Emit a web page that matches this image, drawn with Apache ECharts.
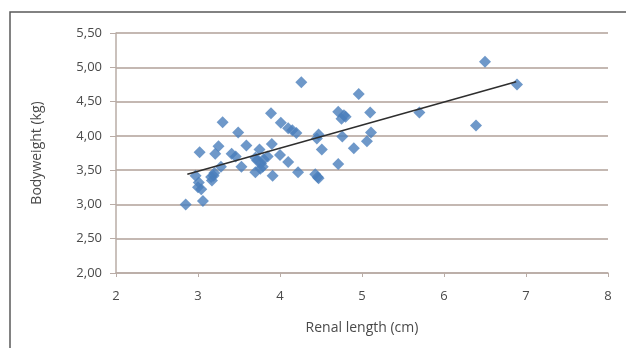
<!DOCTYPE html>
<html>
<head>
<meta charset="utf-8">
<script src="https://cdn.jsdelivr.net/npm/echarts@6/dist/echarts.min.js"></script>
<style>html,body{margin:0;padding:0;background:#fff}#c{width:626px;height:348px}</style>
</head>
<body>
<div id="c"></div>
<script>
var renalLength = [2.85,3.06,3.00,3.04,3.01,2.97,3.02,3.17,3.19,3.20,3.16,3.21,3.25,3.30,3.28,3.41,3.46,3.49,3.53,3.59,3.70,3.70,3.72,3.75,3.77,3.79,3.80,3.76,3.85,3.89,3.90,3.91,4.00,4.01,4.10,4.10,4.15,4.20,4.22,4.26,4.43,4.47,4.46,4.47,4.45,4.51,4.71,4.71,4.75,4.78,4.76,4.80,4.90,4.96,5.06,5.10,5.11,5.70,6.39,6.50,6.89];
var bodyweight = [3.00,3.05,3.25,3.22,3.32,3.42,3.76,3.35,3.42,3.46,3.40,3.74,3.85,4.20,3.55,3.74,3.70,4.05,3.55,3.86,3.68,3.47,3.64,3.80,3.60,3.55,3.66,3.52,3.70,4.33,3.88,3.42,3.72,4.19,4.11,3.62,4.08,4.04,3.47,4.78,3.44,3.38,3.40,4.02,3.96,3.80,4.35,3.59,4.25,4.30,3.99,4.28,3.82,4.61,3.92,4.34,4.05,4.34,4.15,5.08,4.75];
var trendX = [2.87, 6.88];
var trendY = [3.44, 4.79];
var yTicks = ['2,00','2,50','3,00','3,50','4,00','4,50','5,00','5,50'];

var pts = renalLength.map(function(x,i){return [x, bodyweight[i]];});
var trend = trendX.map(function(x,i){return [x, trendY[i]];});
var font = 'Open Sans';
var chart = echarts.init(document.getElementById('c'));
chart.setOption({
  animation:false,
  backgroundColor:'#fff',
  grid:{left:116,right:18,top:33,bottom:75},
  graphic:[{type:'polyline',shape:{points:[[10,348],[10,12],[626,12]]},style:{stroke:'#5a5a5a',lineWidth:1.5,fill:null}}],
  xAxis:{type:'value',min:2,max:8,interval:1,
    name:'Renal length (cm)',nameLocation:'middle',nameGap:48,
    nameTextStyle:{fontFamily:font,fontSize:14,color:'#4a4a4a'},
    axisLine:{show:true,lineStyle:{color:'#b9aca6',width:1.5}},
    axisTick:{show:true,length:4,lineStyle:{color:'#b9aca6'}},
    axisLabel:{fontFamily:font,fontSize:13,color:'#4a4a4a',margin:17},
    splitLine:{show:false}},
  yAxis:{type:'value',min:2,max:5.5,interval:0.5,
    name:'Bodyweight (kg)',nameLocation:'middle',nameGap:72,
    nameTextStyle:{fontFamily:font,fontSize:14,color:'#4a4a4a'},
    axisLine:{show:true,lineStyle:{color:'#b9aca6',width:1.5}},
    axisTick:{show:true,length:6,lineStyle:{color:'#b9aca6'}},
    axisLabel:{fontFamily:font,fontSize:13,color:'#4a4a4a',margin:14,
      formatter:function(v){return yTicks[Math.round((v-2)/0.5)];}},
    splitLine:{show:true,lineStyle:{color:'#c4b8b2',width:2}}},
  series:[
    {type:'scatter',data:pts,symbol:'diamond',symbolSize:12,itemStyle:{color:'#4a7ebb'},z:2},
    {type:'line',data:trend,symbol:'none',lineStyle:{color:'#2e2e2e',width:1.5},z:3}
  ]
});
</script>
</body>
</html>
